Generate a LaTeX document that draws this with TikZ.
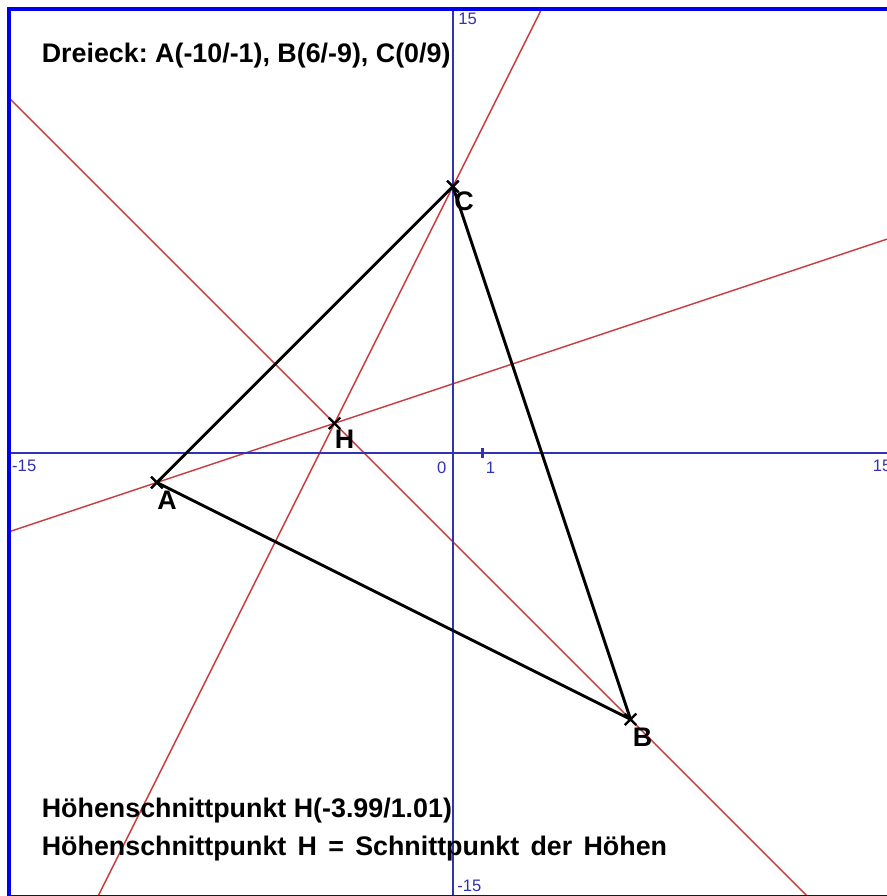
\documentclass[tikz,border=0pt]{standalone}
\usepackage{fontspec}
\setmainfont{Liberation Sans}
\usepackage{xcolor}
\definecolor{achsenBlau}{HTML}{3232B4}
\definecolor{rahmenBlau}{HTML}{0000EE}
\definecolor{hoehenRot}{HTML}{C83C3C}
\usepackage{tikz}
\usetikzlibrary{positioning, calc, shapes.misc}
\frenchspacing

\begin{document}
\begin{tikzpicture}[
		x=0.5cm, y=0.5cm,
		every node/.style={
			inner sep=0pt,
			font=\fontsize{12.9}{15}\selectfont\bfseries
		},
		punkt/.style={draw, cross out, minimum size=4.5pt, line width=1pt},
		seite/.style={line width=1.4pt, black},
		hoehe/.style={line width=0.7pt, hoehenRot},
		achse/.style={line width=1pt, achsenBlau},
		zahl/.style={font=\fontsize{8}{9}\selectfont, text=achsenBlau}
		]
		
		\clip (-15.3,-14.97) rectangle (14.66,15.3);
		\fill[white] (-15.3,-14.97) rectangle (14.66,15.3);
		
		% Koordinatensystem
		\coordinate (xmin) at (-15,0);
		\coordinate (xmax) at (15,0);
		\coordinate (ymin) at (0,-15);
		\coordinate (ymax) at (0,15);
		\coordinate (O) at (0,0);
		\coordinate (eins) at (1,0);
		
		% Dreieck und Hoehenschnittpunkt
		\node[punkt] (A) at (-10,-1) {};
		\node[punkt] (B) at (6,-9) {};
		\node[punkt] (C) at (0,9) {};
		\node[punkt] (H) at (-4,1) {};
		
		% Hoehen
		\begin{scope}
			\clip (-15,-15) rectangle (15,15);
			\draw[hoehe] ($(A)!-1!(H)$) -- ($(A)!5!(H)$);
			\draw[hoehe] ($(B)!-1!(H)$) -- ($(B)!2.5!(H)$);
			\draw[hoehe] ($(C)!-1!(H)$) -- ($(C)!3.5!(H)$);
		\end{scope}
		
		\draw[achse] (xmin) -- (xmax);
		\draw[achse] (ymin) -- (ymax);
		\draw[achse] ([yshift=2.4pt]eins) -- ([yshift=-2.4pt]eins);
		\draw[rahmenBlau, line width=1.9pt] (-15,-15) rectangle (15,15);
		
		\node[zahl, below right=3.4pt and 1.4pt of xmin] (lxmin) {-15};
		\node[zahl, below left=3.4pt and 2.4pt of xmax] (lxmax) {15};
		\node[zahl, below right=2pt and 2.4pt of ymax] (lymax) {15};
		\node[zahl, above right=2.4pt and 1.9pt of ymin] (lymin) {-15};
		\node[zahl, below left=4.3pt and 2.9pt of O] (lO) {0};
		\node[zahl, below right=4.3pt and 1.4pt of eins] (leins) {1};
		
		\draw[seite] (A.center) -- (B.center) -- (C.center) -- cycle;
		\node[punkt] at (A) {};
		\node[punkt] at (B) {};
		\node[punkt] at (C) {};
		\node[punkt] at (H) {};
		
		\node[below right=3.8pt and 0pt of A.center] (lA) {A};
		\node[below right=3.8pt and 1pt of B.center] (lB) {B};
		\node[below right=2.4pt and 0.5pt of C.center] (lC) {C};
		\node[below right=2.9pt and 0pt of H.center] (lH) {H};
		
		% Texte
		\node[anchor=base west] (titel) at (-13.9,13.2) {Dreieck: A(-10/-1), B(6/-9), C(0/9)};
		\node[anchor=base west] (hsp) at (-13.9,-12.33) {Höhenschnittpunkt H(-3.99/1.01)};
		\node[anchor=base west] (hdef) at ([yshift=-18.2pt]hsp.base west) {\spaceskip=0.42em Höhenschnittpunkt H = Schnittpunkt der Höhen};
		
	\end{tikzpicture}
\end{document}
